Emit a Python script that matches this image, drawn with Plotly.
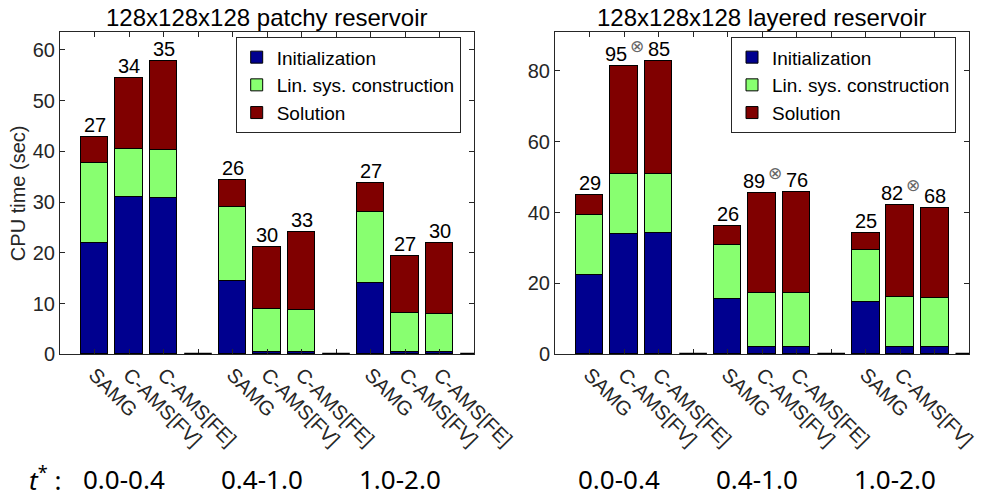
import plotly.graph_objects as go

methods = ["SAMG", "C-AMS[FV]", "C-AMS[FE]"]
intervals = ["0.0-0.4", "0.4-1.0", "1.0-2.0"]
components = ["Initialization", "Lin. sys. construction", "Solution"]
colors = ["#00008F", "#88FF70", "#800000"]

# Patchy reservoir (segment heights, order: SAMG, FV, FE per interval)
patchy_init = [21.9, 30.9, 30.8, 14.5, 0.5, 0.5, 14.0, 0.4, 0.4]
patchy_lin = [15.8, 9.6, 9.5, 14.6, 8.4, 8.3, 14.1, 7.8, 7.6]
patchy_sol = [5.2, 14.0, 17.4, 5.2, 12.2, 15.2, 5.7, 11.1, 13.9]
patchy_iters = [27, 34, 35, 26, 30, 33, 27, 27, 30]

# Layered reservoir
layered_init = [22.5, 33.9, 34.2, 15.5, 2.2, 2.2, 14.7, 2.0, 2.0]
layered_lin = [16.7, 16.9, 16.8, 15.5, 15.2, 15.2, 14.7, 14.3, 13.8]
layered_sol = [5.8, 30.5, 31.8, 5.1, 28.2, 28.4, 4.8, 25.9, 25.5]
layered_iters = [29, 95, 85, 26, 89, 76, 25, 82, 68]
layered_flag = [False, True, False, False, True, False, False, True, False]

titles = ["128x128x128 patchy reservoir", "128x128x128 layered reservoir"]

W, H = 1003, 500
positions = [4 * g + m + 1 for g in range(len(intervals)) for m in range(len(methods))]
gap_positions = [4 * (g + 1) for g in range(len(intervals))]
tickvals = positions
ticktext = [methods[(p - 1) % 4] for p in positions]

fig = go.Figure()
panels = [
    (patchy_init, patchy_lin, patchy_sol, patchy_iters, None, "x", "y", "legend"),
    (layered_init, layered_lin, layered_sol, layered_iters, layered_flag, "x2", "y2", "legend2"),
]

FONT = "Liberation Sans"
annotations = []
for (ini, lin, sol, iters, flags, xa, ya, lg) in panels:
    for comp, vals, col in zip(components, [ini, lin, sol], colors):
        fig.add_trace(go.Bar(
            x=positions, y=vals, name=comp, width=0.8,
            marker=dict(color=col, line=dict(color="black", width=1)),
            xaxis=xa, yaxis=ya, legend=lg, hoverinfo="skip",
        ))
    totals = [a + b + c for a, b, c in zip(ini, lin, sol)]
    for i, (p, t, n) in enumerate(zip(positions, totals, iters)):
        flagged = flags is not None and flags[i]
        annotations.append(dict(
            x=p, y=t, xref=xa, yref=ya, text=str(n), showarrow=False,
            xanchor="center", yanchor="middle", yshift=12,
            xshift=-8 if flagged else 0,
            font=dict(family=FONT, size=20, color="black"),
        ))
        if flagged:
            annotations.append(dict(
                x=p, y=t, xref=xa, yref=ya, text="⊗", showarrow=False,
                xanchor="center", yanchor="middle", yshift=20, xshift=13,
                font=dict(family="DejaVu Sans", size=17, color="#666666"),
            ))

shapes = []
for xa, ya in [("x", "y"), ("x2", "y2")]:
    for gp in gap_positions:
        shapes.append(dict(type="line", xref=xa, yref=ya, x0=gp - 0.4, x1=min(gp + 0.4, 12),
                           y0=0, y1=0, line=dict(color="black", width=3)))

dom_y = [1 - 354.3 / H, 1 - 32 / H]
dom_x1 = [60 / W, 474 / W]
dom_x2 = [555 / W, 969.3 / W]

axis_common = dict(showline=True, linecolor="#262626", linewidth=1, mirror="ticks",
                   ticks="inside", ticklen=5, tickcolor="#262626", showgrid=False,
                   zeroline=False, automargin=False,
                   tickfont=dict(family=FONT, size=20, color="#262626"))
xminor = dict(tickvals=gap_positions[:-1], ticks="inside", ticklen=5, tickcolor="#262626")

fig.update_layout(
    width=W, height=H, margin=dict(l=0, r=0, t=0, b=0, pad=0),
    paper_bgcolor="white", plot_bgcolor="white",
    barmode="stack", bargap=0,
    xaxis=dict(domain=dom_x1, range=[0, 12], tickvals=tickvals, ticktext=ticktext,
               tickangle=45, anchor="y", minor=xminor, **axis_common),
    yaxis=dict(domain=dom_y, range=[0, 63.5], tickvals=[0, 10, 20, 30, 40, 50, 60],
               anchor="x", **axis_common),
    xaxis2=dict(domain=dom_x2, range=[0, 12], tickvals=tickvals, ticktext=ticktext,
                tickangle=45, anchor="y2", minor=xminor, **axis_common),
    yaxis2=dict(domain=dom_y, range=[0, 91], tickvals=[0, 20, 40, 60, 80],
                anchor="x2", **axis_common),
    legend=dict(x=235.7 / W, y=1 - 37.3 / H, xanchor="left", yanchor="top",
                bgcolor="white", bordercolor="#262626", borderwidth=1,
                traceorder="normal", font=dict(family=FONT, size=19, color="black"),
                itemclick=False, tracegroupgap=0),
    legend2=dict(x=731 / W, y=1 - 37.3 / H, xanchor="left", yanchor="top",
                 bgcolor="white", bordercolor="#262626", borderwidth=1,
                 traceorder="normal", font=dict(family=FONT, size=19, color="black"),
                 itemclick=False, tracegroupgap=0),
    showlegend=True,
    shapes=shapes,
)

# titles
for t, dx in zip(titles, [dom_x1, dom_x2]):
    annotations.append(dict(x=(dx[0] + dx[1]) / 2, y=1 - 17 / H, xref="paper", yref="paper",
                            text=t, showarrow=False, xanchor="center", yanchor="middle",
                            font=dict(family=FONT, size=24, color="black")))

# y axis title
annotations.append(dict(x=18 / W, y=(dom_y[0] + dom_y[1]) / 2, xref="paper", yref="paper",
                        text="CPU time (sec)", textangle=-90, showarrow=False,
                        xanchor="center", yanchor="middle",
                        font=dict(family=FONT, size=20, color="#262626")))

# interval labels
BFONT = "Noto Sans"
LABEL_Y = 1 - 479 / H
for xa in ["x", "x2"]:
    for g, lab in enumerate(intervals):
        annotations.append(dict(x=4 * g + 2, y=LABEL_Y, xref=xa, yref="paper",
                                text=lab, showarrow=False, xanchor="center", yanchor="middle",
                                xshift=-5, font=dict(family=BFONT, size=26, color="black")))
annotations.append(dict(x=45 / W, y=LABEL_Y, xref="paper", yref="paper",
                        text="<i>t</i><sup>*</sup> :", showarrow=False, xanchor="center",
                        yanchor="middle", font=dict(family=BFONT, size=26, color="black")))

fig.update_layout(annotations=annotations)
fig.write_html("out.html")
